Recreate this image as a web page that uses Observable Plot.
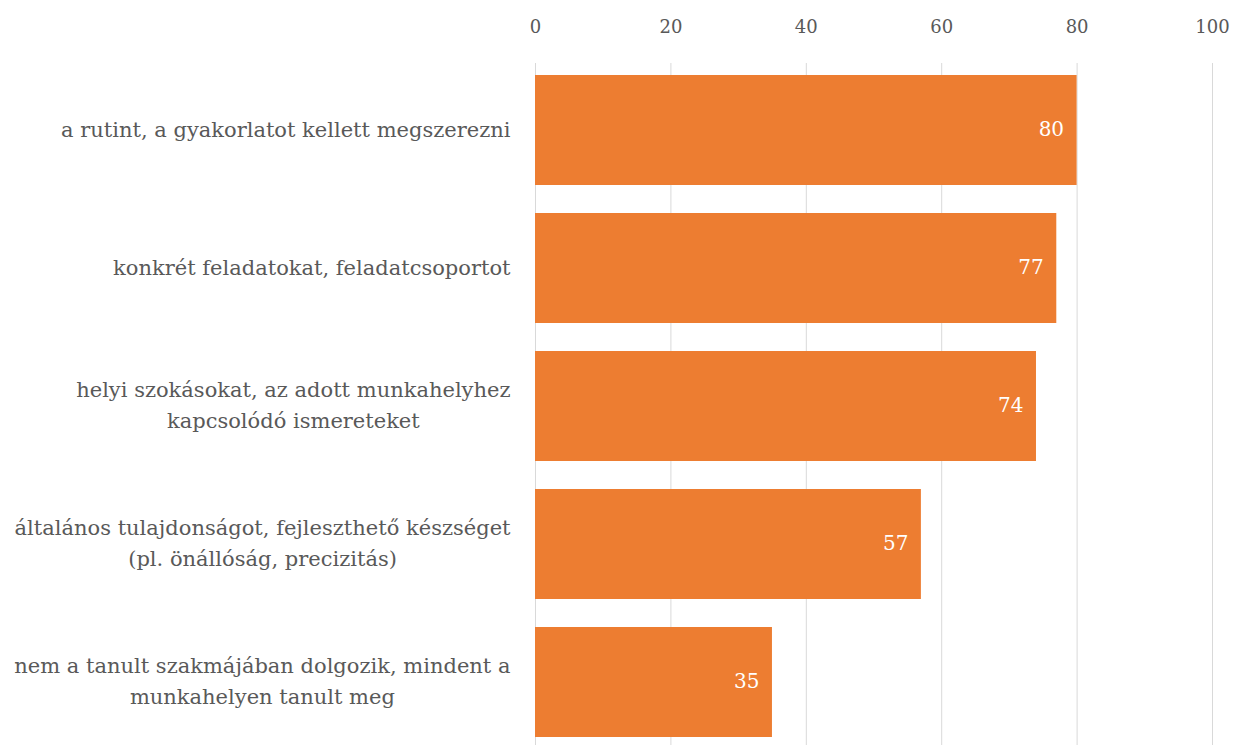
<!DOCTYPE html>
<html>
<head>
<meta charset="utf-8">
<script src="https://cdn.jsdelivr.net/npm/d3@7"></script>
<script src="https://cdn.jsdelivr.net/npm/@observablehq/plot@0.6"></script>
<style>
  html, body { margin: 0; padding: 0; background: #fff; }
  #chart svg { display: block; }
</style>
</head>
<body>
<div id="chart"></div>
<script>
const categories = [
  "a rutint, a gyakorlatot kellett megszerezni",
  "konkrét feladatokat, feladatcsoportot",
  "helyi szokásokat, az adott munkahelyhez\nkapcsolódó ismereteket",
  "általános tulajdonságot, fejleszthető készséget\n(pl. önállóság, precizitás)",
  "nem a tanult szakmájában dolgozik, mindent a\nmunkahelyen tanult meg"
];
const values = [80, 77, 74, 57, 35];
const xTicks = [0, 20, 40, 60, 80, 100];

const data = categories.map((c, i) => ({category: c, value: values[i]}));

const FONT = "'DejaVu Serif', serif";

const chart = Plot.plot({
  width: 1234,
  height: 745,
  marginLeft: 535,
  marginRight: 22,
  marginTop: 63,
  marginBottom: 0,
  style: {fontFamily: FONT, fontSize: "18px", color: "#595959", background: "#fff"},
  x: {domain: [0, 100], ticks: xTicks, axis: null},
  y: {domain: categories, range: [64, 748], paddingInner: 0.2, paddingOuter: 0.072, axis: null},
  marks: [
    Plot.gridX(xTicks, {stroke: "#d9d9d9", strokeOpacity: 1, strokeWidth: 1}),
    Plot.axisX(xTicks, {anchor: "top", tickSize: 0, tickPadding: 31, fontSize: 18, fill: "#595959", label: null}),
    Plot.barX(data, {x: "value", y: "category", fill: "#ed7d31"}),
    Plot.text(data, {x: "value", y: "category", text: d => String(d.value), textAnchor: "end", dx: -13, dy: -1, fill: "#ffffff", fontSize: 20}),
    Plot.axisY({anchor: "left", tickSize: 0, tickPadding: 25, fontSize: 21, dy: -4, fill: "#595959", label: null, lineHeight: 1.5})
  ]
});
document.getElementById("chart").appendChild(chart);

// center multi-line labels within their own block, block right-aligned
requestAnimationFrame(() => {
  chart.querySelectorAll("g[aria-label='y-axis tick label'] text").forEach(t => {
    const spans = t.querySelectorAll("tspan");
    if (spans.length < 2) return;
    const widths = Array.from(spans, s => s.getComputedTextLength());
    const w = Math.max(...widths);
    t.setAttribute("text-anchor", "middle");
    spans.forEach(s => s.setAttribute("x", -w / 2));
  });
});
</script>
</body>
</html>
